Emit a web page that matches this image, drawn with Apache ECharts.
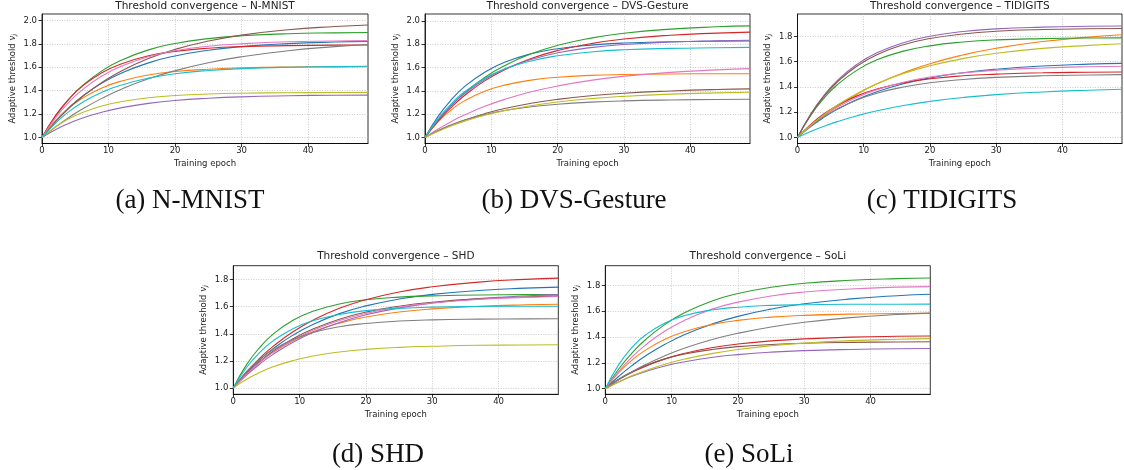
<!DOCTYPE html>
<html><head><meta charset="utf-8">
<script src="https://cdn.jsdelivr.net/npm/echarts@6/dist/echarts.min.js"></script>
<style>html,body{margin:0;padding:0;background:#fff}#c{width:1124px;height:470px}</style>
</head><body><div id="c"></div><script>
const epochs = [0, 2, 4, 6, 9, 12, 16, 20, 25, 30, 37, 44, 49];
const xTicks = [0, 10, 20, 30, 40];
const yTicksHigh = [1.0, 1.2, 1.4, 1.6, 1.8, 2.0];
const yTicksLow = [1.0, 1.2, 1.4, 1.6, 1.8];
const colors = ['#1f77b4','#ff7f0e','#2ca02c','#d62728','#9467bd','#8c564b','#e377c2','#7f7f7f','#bcbd22','#17becf'];
const titles = ['Threshold convergence \u2013 N-MNIST','Threshold convergence \u2013 DVS-Gesture','Threshold convergence \u2013 TIDIGITS','Threshold convergence \u2013 SHD','Threshold convergence \u2013 SoLi'];
const captions = ['(a) N-MNIST','(b) DVS-Gesture','(c) TIDIGITS','(d) SHD','(e) SoLi'];
const xName = 'Training epoch';

const nmnist = [
 [1,1.138,1.253,1.349,1.464,1.551,1.637,1.696,1.745,1.776,1.801,1.815,1.820],
 [1,1.142,1.250,1.333,1.423,1.483,1.534,1.563,1.583,1.594,1.601,1.603,1.604],
 [1,1.179,1.323,1.438,1.569,1.662,1.748,1.803,1.844,1.868,1.886,1.893,1.896],
 [1,1.185,1.326,1.435,1.552,1.630,1.697,1.735,1.762,1.776,1.784,1.788,1.789],
 [1,1.066,1.120,1.165,1.216,1.255,1.291,1.316,1.335,1.347,1.356,1.361,1.362],
 [1,1.132,1.247,1.346,1.469,1.570,1.674,1.752,1.823,1.874,1.920,1.947,1.960],
 [1,1.165,1.298,1.404,1.525,1.611,1.690,1.740,1.779,1.800,1.817,1.823,1.827],
 [1,1.089,1.169,1.241,1.334,1.414,1.501,1.570,1.638,1.689,1.741,1.776,1.794],
 [1,1.090,1.159,1.212,1.269,1.307,1.340,1.358,1.371,1.378,1.382,1.384,1.385],
 [1,1.121,1.219,1.297,1.386,1.449,1.507,1.544,1.572,1.588,1.600,1.605,1.608]
];
const dvsGesture = [
 [1,1.183,1.326,1.438,1.560,1.645,1.718,1.762,1.793,1.811,1.822,1.827,1.828],
 [1,1.136,1.238,1.316,1.397,1.449,1.492,1.517,1.533,1.540,1.545,1.547,1.547],
 [1,1.150,1.276,1.383,1.515,1.616,1.718,1.791,1.853,1.895,1.930,1.950,1.958],
 [1,1.142,1.260,1.362,1.486,1.581,1.677,1.746,1.805,1.845,1.878,1.896,1.904],
 [1,1.152,1.277,1.379,1.498,1.587,1.670,1.727,1.771,1.798,1.819,1.830,1.834],
 [1,1.057,1.107,1.150,1.204,1.248,1.293,1.327,1.358,1.380,1.399,1.412,1.417],
 [1,1.073,1.137,1.194,1.267,1.327,1.392,1.442,1.490,1.525,1.559,1.580,1.591],
 [1,1.060,1.109,1.149,1.196,1.231,1.263,1.285,1.303,1.314,1.322,1.326,1.328],
 [1,1.053,1.100,1.140,1.190,1.230,1.272,1.304,1.333,1.353,1.372,1.383,1.388],
 [1,1.163,1.291,1.394,1.507,1.587,1.657,1.701,1.734,1.753,1.765,1.770,1.773]
];
const tidigits = [
 [1,1.086,1.159,1.222,1.300,1.362,1.425,1.471,1.512,1.540,1.565,1.580,1.586],
 [1,1.091,1.173,1.246,1.342,1.424,1.512,1.584,1.653,1.706,1.759,1.794,1.813],
 [1,1.175,1.310,1.417,1.533,1.614,1.683,1.725,1.755,1.772,1.782,1.787,1.788],
 [1,1.103,1.187,1.253,1.329,1.383,1.432,1.464,1.488,1.501,1.512,1.516,1.518],
 [1,1.186,1.333,1.450,1.579,1.670,1.750,1.801,1.838,1.859,1.873,1.880,1.882],
 [1,1.182,1.325,1.439,1.566,1.655,1.734,1.783,1.819,1.840,1.854,1.860,1.862],
 [1,1.095,1.174,1.239,1.319,1.378,1.437,1.478,1.511,1.533,1.550,1.560,1.563],
 [1,1.091,1.165,1.226,1.297,1.350,1.399,1.433,1.459,1.475,1.488,1.494,1.497],
 [1,1.096,1.181,1.255,1.348,1.425,1.506,1.567,1.624,1.666,1.705,1.729,1.741],
 [1,1.047,1.088,1.125,1.172,1.211,1.253,1.285,1.316,1.339,1.360,1.374,1.381]
];
const shd = [
 [1,1.112,1.208,1.290,1.390,1.469,1.549,1.606,1.657,1.691,1.720,1.737,1.745],
 [1,1.104,1.191,1.263,1.349,1.415,1.479,1.524,1.561,1.584,1.603,1.614,1.618],
 [1,1.172,1.300,1.397,1.500,1.566,1.620,1.651,1.671,1.680,1.687,1.689,1.689],
 [1,1.119,1.220,1.307,1.415,1.500,1.588,1.652,1.709,1.747,1.782,1.802,1.811],
 [1,1.094,1.177,1.248,1.337,1.409,1.484,1.540,1.591,1.627,1.660,1.679,1.689],
 [1,1.106,1.195,1.271,1.364,1.436,1.508,1.560,1.604,1.633,1.658,1.672,1.678],
 [1,1.102,1.189,1.263,1.354,1.426,1.498,1.551,1.597,1.627,1.654,1.669,1.676],
 [1,1.120,1.211,1.282,1.358,1.409,1.452,1.476,1.494,1.503,1.508,1.510,1.511],
 [1,1.064,1.115,1.156,1.202,1.236,1.266,1.285,1.300,1.308,1.315,1.317,1.319],
 [1,1.151,1.263,1.348,1.438,1.496,1.543,1.571,1.588,1.597,1.602,1.604,1.604]
];
const soli = [
 [1,1.095,1.179,1.252,1.344,1.420,1.499,1.560,1.616,1.657,1.695,1.720,1.731],
 [1,1.123,1.220,1.297,1.383,1.443,1.496,1.529,1.554,1.568,1.577,1.581,1.583],
 [1,1.151,1.275,1.377,1.498,1.590,1.677,1.737,1.785,1.816,1.839,1.852,1.857],
 [1,1.069,1.126,1.173,1.231,1.274,1.317,1.346,1.370,1.386,1.399,1.406,1.408],
 [1,1.052,1.096,1.132,1.176,1.209,1.242,1.264,1.283,1.295,1.304,1.309,1.311],
 [1,1.073,1.131,1.178,1.231,1.269,1.303,1.326,1.342,1.352,1.359,1.362,1.364],
 [1,1.133,1.244,1.336,1.447,1.531,1.614,1.670,1.718,1.748,1.772,1.786,1.790],
 [1,1.069,1.130,1.185,1.255,1.315,1.379,1.429,1.478,1.514,1.550,1.574,1.585],
 [1,1.053,1.100,1.140,1.190,1.230,1.272,1.304,1.333,1.353,1.372,1.383,1.388],
 [1,1.185,1.319,1.414,1.509,1.567,1.609,1.631,1.645,1.650,1.654,1.654,1.655]
];

const panelData = [nmnist, dvsGesture, tidigits, shd, soli];
const panelTicks = [yTicksHigh, yTicksHigh, yTicksLow, yTicksLow, yTicksLow];
// layout (pixels)
const layout = [
  {left: 42,    top: 14,    width: 326,   height: 129.5, ymin: 0.949, ymax: 2.054, cap: [190, 201]},
  {left: 425,   top: 14,    width: 325,   height: 129.5, ymin: 0.948, ymax: 2.060, cap: [574, 201]},
  {left: 797.5, top: 14,    width: 324.5, height: 129.5, ymin: 0.952, ymax: 1.977, cap: [942, 201]},
  {left: 233.3, top: 265.7, width: 325,   height: 128.6, ymin: 0.953, ymax: 1.903, cap: [378, 455]},
  {left: 605.3, top: 265.7, width: 325,   height: 128.6, ymin: 0.957, ymax: 1.952, cap: [749, 455]}
];

const FONT = 'DejaVu Sans';
const txt = '#222';
const gridLine = {show: true, lineStyle: {color: '#b4b4b4', width: 0.7, type: [1, 1.5]}};
const grids = [], xAxes = [], yAxes = [], series = [], graphics = [];
layout.forEach((L, i) => {
  grids.push({left: L.left, top: L.top, width: L.width, height: L.height, show: true, borderColor: '#000', borderWidth: 0.8, backgroundColor: 'transparent', containLabel: false});
  xAxes.push({
    type: 'value', gridIndex: i, min: 0, max: 49,
    name: xName, nameLocation: 'middle', nameGap: 16,
    nameTextStyle: {fontFamily: FONT, fontSize: 8.5, color: txt},
    axisLine: {show: true, onZero: false, lineStyle: {color: '#000', width: 0.8}},
    axisTick: {show: true, length: 3.5, customValues: xTicks, lineStyle: {color: '#000', width: 0.8}},
    axisLabel: {customValues: xTicks, fontFamily: FONT, fontSize: 8.5, color: txt, margin: 3},
    splitLine: gridLine
  });
  yAxes.push({
    type: 'value', gridIndex: i, min: L.ymin, max: L.ymax,
    name: 'Adaptive threshold {v|v}{j|j}', nameLocation: 'middle', nameGap: 25, nameRotate: 90,
    nameTextStyle: {fontFamily: FONT, fontSize: 8.5, color: txt,
      rich: {v: {fontFamily: 'DejaVu Serif', fontStyle: 'italic', fontSize: 8.5, color: txt},
             j: {fontFamily: 'DejaVu Serif', fontStyle: 'italic', fontSize: 6, color: txt, padding: [3, 0, 0, 0]}}},
    axisLine: {show: true, lineStyle: {color: '#000', width: 0.8}},
    axisTick: {show: true, length: 3.5, customValues: panelTicks[i], lineStyle: {color: '#000', width: 0.8}},
    axisLabel: {customValues: panelTicks[i], fontFamily: FONT, fontSize: 8.5, color: txt, margin: 5,
      formatter: v => Number(v).toFixed(1)},
    splitLine: gridLine
  });
  panelData[i].forEach((vals, k) => {
    series.push({
      type: 'line', xAxisIndex: i, yAxisIndex: i, showSymbol: false, smooth: 0.5,
      lineStyle: {width: 1.1, color: colors[k]}, itemStyle: {color: colors[k]},
      data: epochs.map((e, j) => [e, vals[j]]), silent: true, z: 2 + k * 0.01
    });
  });
  graphics.push({type: 'text', x: L.left + L.width / 2, y: i < 3 ? 6 : 256,
    style: {text: titles[i], fontFamily: FONT, fontSize: 10.5, fill: txt, textAlign: 'center', textVerticalAlign: 'middle'}});
  graphics.push({type: 'text', x: L.cap[0], y: L.cap[1],
    style: {text: captions[i], fontFamily: 'Liberation Serif', fontSize: 27, fill: '#111', textAlign: 'center', textVerticalAlign: 'middle'}});
});

const chart = echarts.init(document.getElementById('c'), null, {renderer: 'canvas'});
chart.setOption({animation: false, backgroundColor: '#fff', grid: grids, xAxis: xAxes, yAxis: yAxes, series: series, graphic: graphics});
</script></body></html>
